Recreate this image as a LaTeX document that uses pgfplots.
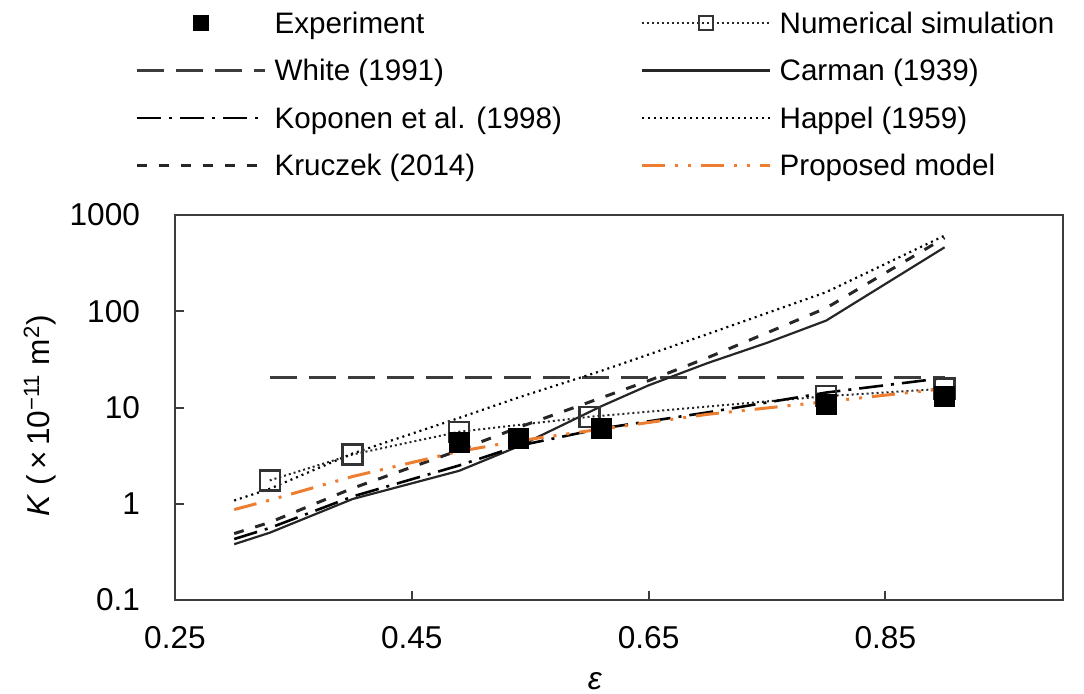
\documentclass[border=0pt]{standalone}
\usepackage{fontspec}
\setmainfont{Liberation Sans}
\usepackage{pgfplots}
\pgfplotsset{compat=1.18}
\definecolor{orng}{HTML}{ED7D31}
\definecolor{dk}{HTML}{3C3C3C}
\newcommand\tf{\fontsize{15.8pt}{18pt}\selectfont}
\newcommand\lf{\fontsize{14.8pt}{17pt}\selectfont}
\begin{document}
\begin{tikzpicture}
\useasboundingbox (-87.5pt,-46.5pt) rectangle (454.5pt,300pt);
\begin{axis}[
  at={(0,0)}, anchor=south west,
  scale only axis, width=444pt, height=192.5pt,
  xmin=0.25, xmax=1.0, ymode=log, ymin=0.1, ymax=1000,
  xtick={0.25,0.45,0.65,0.85}, xticklabels={0.25,0.45,0.65,0.85},
  ytick={0.1,1,10,100,1000}, yticklabels={0.1,1,10,100,1000},
  yminorticks=false,
  tick pos=left, tick align=inside, major tick length=4.5pt,
  axis line style={dk, line width=1.2pt},
  tick style={dk, line width=1pt},
  tick label style={font=\tf},
  /pgf/number format/assume math mode=true,
  yticklabel shift=14pt,
  xticklabel shift=9.7pt,
  xlabel={\textit{ε}},
  ylabel={\textit{K} (\,×\,10\textsuperscript{−11} m\textsuperscript{2})},
  every axis x label/.style={at={(axis description cs:0.473,0)}, yshift=-40.5pt, anchor=center, font=\tf},
  every axis y label/.style={at={(axis description cs:0,0.479)}, xshift=-67.5pt, rotate=90, anchor=center, font=\tf},
  legend columns=2,
  legend cell align=left,
  legend image code/.code={\draw[mark repeat=2,mark phase=2,#1] plot coordinates {(0pt,0pt) (32pt,0pt) (64pt,0pt)};},
  legend style={draw=none, fill=none, font=\lf, inner sep=0pt, outer sep=0pt,
    at={(-0.045,1.5312)}, anchor=north west,
    nodes={text height=10.5pt, text depth=0pt, inner sep=1pt},
    row sep=11.2pt,
    /tikz/every odd column/.append style={column sep=3pt},
    /tikz/every even column/.append style={column sep=38.3pt}},
]
\addlegendimage{only marks, mark=square*, mark size=3.75pt, mark options={fill=black, draw=black}}
\addlegendentry{Experiment}

\addplot[black!85, line width=1pt, dash pattern=on 1pt off 1.5pt,
  mark=square, mark size=5pt, mark options={solid, line width=1.2pt, draw=black!80},
  legend image post style={mark size=3.5pt}]
  coordinates {(0.33,1.75) (0.40,3.25) (0.49,5.6) (0.60,8.0) (0.80,13.1) (0.90,15.7)};
\addlegendentry{Numerical simulation}

\addplot[dk, line width=1.8pt, dash pattern=on 13.5pt off 6pt]
  coordinates {(0.33,20.6) (0.90,20.6)};
\addlegendentry{White (1991)}

\addplot[black!85, line width=1.1pt]
  coordinates {(0.30,0.38) (0.33,0.50) (0.40,1.12) (0.49,2.2) (0.54,3.94) (0.61,10.3) (0.65,17) (0.70,29) (0.75,47) (0.80,80) (0.90,462)};
\addlegendentry{Carman (1939)}

\addplot[black, line width=1.3pt, dash pattern=on 12pt off 4pt on 1.5pt off 4pt]
  coordinates {(0.30,0.43) (0.33,0.56) (0.40,1.19) (0.49,2.5) (0.54,4.0) (0.61,6.05) (0.70,8.9) (0.80,14.3) (0.90,20.3)};
\addlegendentry{Koponen et al. (1998)}

\addplot[black, line width=1.1pt, dash pattern=on 1pt off 2pt]
  coordinates {(0.30,1.08) (0.33,1.43) (0.40,3.33) (0.49,7.8) (0.54,12.7) (0.61,24) (0.70,58) (0.80,158) (0.90,611)};
\addlegendentry{Happel (1959)}

\addplot[black!85, line width=1.5pt, dash pattern=on 5pt off 6pt]
  coordinates {(0.30,0.49) (0.33,0.64) (0.40,1.45) (0.49,3.6) (0.54,6.2) (0.61,12.6) (0.65,19) (0.70,33) (0.80,108) (0.90,580)};
\addlegendentry{Kruczek (2014)}

\addplot[orng, line width=1.5pt, dash pattern=on 11.5pt off 5pt on 1.5pt off 5pt on 1.5pt off 5pt]
  coordinates {(0.30,0.87) (0.33,1.09) (0.40,1.92) (0.49,3.5) (0.54,4.5) (0.61,5.97) (0.70,8.5) (0.80,11.5) (0.90,15.7)};
\addlegendentry{Proposed model}

\addplot[only marks, mark=square*, mark size=5pt, mark options={fill=black, draw=black}, forget plot]
  coordinates {(0.49,4.37) (0.54,4.73) (0.61,6.06) (0.80,10.9) (0.90,13.1)};
\end{axis}
\end{tikzpicture}
\end{document}
